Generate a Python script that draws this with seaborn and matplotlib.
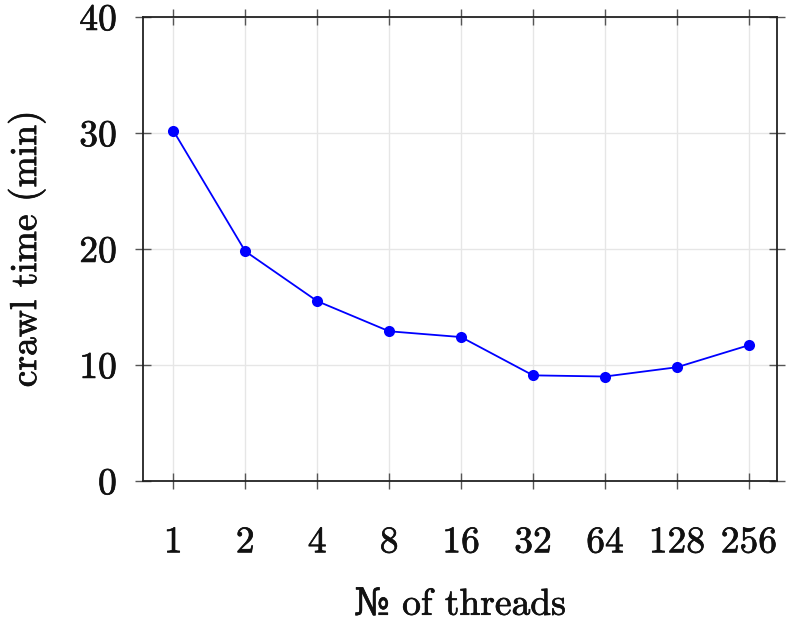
import matplotlib.pyplot as plt
import matplotlib.patheffects as pe
import numpy as np
import pandas as pd
import seaborn as sns

threads = ["1", "2", "4", "8", "16", "32", "64", "128", "256"]
crawl_min = [30.2, 19.8, 15.5, 12.9, 12.4, 9.1, 9.0, 9.8, 11.7]

sns.set_theme(style="ticks")
plt.rcParams["font.family"] = ["cmr10", "DejaVu Serif"]
plt.rcParams["axes.formatter.use_mathtext"] = True
plt.rcParams["text.color"] = "#111111"
plt.rcParams["axes.labelcolor"] = "#111111"
plt.rcParams["xtick.labelcolor"] = "#111111"
plt.rcParams["ytick.labelcolor"] = "#111111"

df = pd.DataFrame({"pos": np.arange(len(threads)), "time": crawl_min})

fig = plt.figure(figsize=(7.86, 6.27), dpi=100)
ax = fig.add_axes([0.182, 0.233, 0.8065, 0.740])
sns.lineplot(data=df, x="pos", y="time", ax=ax, color="#0000ff", lw=1.3,
             marker="o", markersize=8, markeredgewidth=0, zorder=3)

ax.set_xlim(-0.42, 8.39)
ax.set_ylim(0, 40)
ax.set_xticks(df["pos"])
ax.set_xticklabels(threads)
ax.set_yticks([0, 10, 20, 30, 40])
ax.grid(True, color="#e6e6e6", lw=1)
ax.set_axisbelow(True)
for s in ax.spines.values():
    s.set_visible(True)
    s.set_color("#222222")
    s.set_linewidth(1.3)
ax.tick_params(direction="inout", length=12, width=1, color="#555555",
               top=True, right=True, labelsize=27)
ax.tick_params(axis="y", pad=12.5)
ax.tick_params(axis="x", pad=26.5)
ax.set_xlabel("№ of threads", fontsize=27, labelpad=21)
ax.set_ylabel("crawl time (min)", fontsize=27, labelpad=24)

thick = [pe.withStroke(linewidth=0.5, foreground="#111111")]
for t in ax.get_xticklabels() + ax.get_yticklabels() + [ax.xaxis.label, ax.yaxis.label]:
    t.set_path_effects(thick)

fig.savefig("out.png", dpi=100)
